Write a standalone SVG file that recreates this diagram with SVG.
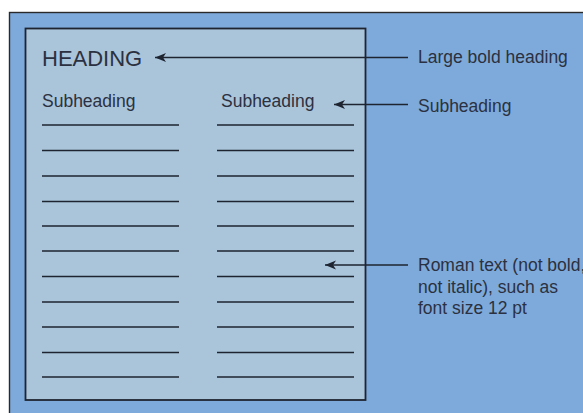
<svg xmlns="http://www.w3.org/2000/svg" width="583" height="413" viewBox="0 0 583 413">
<defs>
<style>
.t{font-family:"Liberation Sans",Arial,sans-serif;fill:#2b3140}
.rule{stroke:#1e2430;stroke-width:1.6}
.conn{stroke:#1e2430;stroke-width:1.4;fill:none}
</style>
<marker id="ah" markerWidth="12" markerHeight="10" refX="11" refY="5" orient="auto" markerUnits="userSpaceOnUse">
<path d="M0,0.5 L11,5 L0,9.5 L3,5 Z" fill="#1e2430"/>
</marker>
</defs>
<rect x="0" y="0" width="583" height="413" fill="#ffffff"/>
<rect id="background" x="9.5" y="12.5" width="580" height="410" fill="#7eaadb" stroke="#2a2a2a" stroke-width="1.4"/>
<g id="page">
<rect x="25.5" y="28.5" width="340" height="371.5" fill="#aac4da" stroke="#1e2430" stroke-width="1.8"/>
<text class="t" x="42" y="66" font-size="22">HEADING</text>
<text class="t" x="42" y="107" font-size="17.5">Subheading</text>
<text class="t" x="221" y="107" font-size="17.5">Subheading</text>
<g class="rule">
<line x1="42" y1="125" x2="179" y2="125"/><line x1="217" y1="125" x2="354" y2="125"/>
<line x1="42" y1="150.5" x2="179" y2="150.5"/><line x1="217" y1="150.5" x2="354" y2="150.5"/>
<line x1="42" y1="176" x2="179" y2="176"/><line x1="217" y1="176" x2="354" y2="176"/>
<line x1="42" y1="201.5" x2="179" y2="201.5"/><line x1="217" y1="201.5" x2="354" y2="201.5"/>
<line x1="42" y1="226" x2="179" y2="226"/><line x1="217" y1="226" x2="354" y2="226"/>
<line x1="42" y1="251" x2="179" y2="251"/><line x1="217" y1="251" x2="354" y2="251"/>
<line x1="42" y1="276.5" x2="179" y2="276.5"/><line x1="217" y1="276.5" x2="354" y2="276.5"/>
<line x1="42" y1="302" x2="179" y2="302"/><line x1="217" y1="302" x2="354" y2="302"/>
<line x1="42" y1="327" x2="179" y2="327"/><line x1="217" y1="327" x2="354" y2="327"/>
<line x1="42" y1="352.5" x2="179" y2="352.5"/><line x1="217" y1="352.5" x2="354" y2="352.5"/>
<line x1="42" y1="377" x2="179" y2="377"/><line x1="217" y1="377" x2="354" y2="377"/>
</g>
</g>
<g id="label-heading">
<text class="t" x="418" y="63" font-size="17.5">Large bold heading</text>
</g>
<g id="label-subheading">
<text class="t" x="418" y="112" font-size="17.5">Subheading</text>
</g>
<g id="label-roman">
<text class="t" x="418" y="271" font-size="17.5">Roman text (not bold,</text>
<text class="t" x="418" y="292.5" font-size="17.5">not italic), such as</text>
<text class="t" x="418" y="314" font-size="17.5">font size 12 pt</text>
</g>
<g id="connectors">
<line class="conn" x1="408" y1="57.5" x2="155" y2="57.5" marker-end="url(#ah)"/>
<line class="conn" x1="408" y1="104.5" x2="334" y2="104.5" marker-end="url(#ah)"/>
<line class="conn" x1="408" y1="265" x2="325" y2="265" marker-end="url(#ah)"/>
</g>
</svg>
